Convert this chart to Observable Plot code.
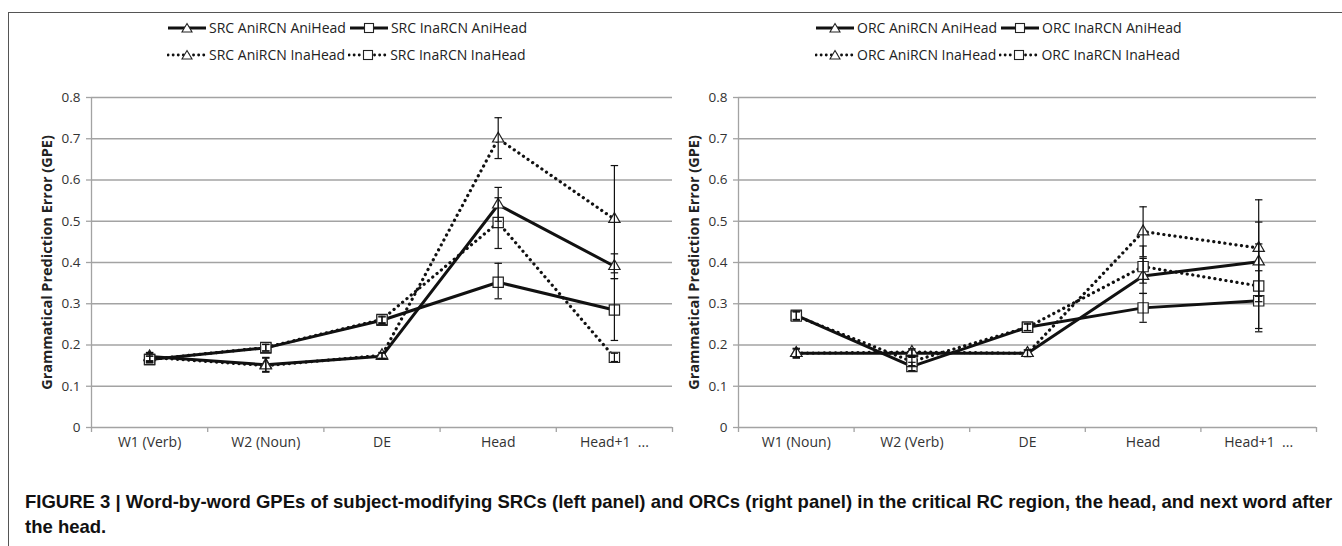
<!DOCTYPE html>
<html><head><meta charset="utf-8">
<script src="https://cdn.jsdelivr.net/npm/d3@7"></script>
<script src="https://cdn.jsdelivr.net/npm/@observablehq/plot@0.6"></script>
<style>
body{margin:0;width:1342px;height:546px;overflow:hidden;background:#fff;font-family:"Open Sans",sans-serif;position:relative}
#frame{position:absolute;left:8px;top:12px;width:1400px;height:600px;border-left:1.5px solid #555;border-top:1.5px solid #555}
.panel{position:absolute;top:85px}
.legend{position:absolute;font-size:14px;color:#222;line-height:16px}
.legend .row{display:flex;align-items:center;white-space:nowrap;height:16px}
.legend .row + .row{margin-top:11px}
.legend svg{display:block}
.caption{position:absolute;left:25px;top:489px;font-family:"Liberation Sans",Arial,sans-serif;font-weight:bold;font-size:18.5px;line-height:25px;color:#111;white-space:nowrap}
</style></head><body>
<div id="frame"></div>
<div id="legL" class="legend"></div>
<div id="legR" class="legend"></div>
<div id="left" class="panel" style="left:0px"></div>
<div id="right" class="panel" style="left:672px"></div>
<div class="caption">FIGURE 3 | Word-by-word GPEs of subject-modifying SRCs (left panel) and ORCs (right panel) in the critical RC region, the head, and next word after<br>the head.</div>
<script>
// ---- data ----
const categoriesSRC = ["W1 (Verb)", "W2 (Noun)", "DE", "Head", "Head+1 \u00a0..."];
const categoriesORC = ["W1 (Noun)", "W2 (Verb)", "DE", "Head", "Head+1 \u00a0..."];
const yTickValues = [0, 0.1, 0.2, 0.3, 0.4, 0.5, 0.6, 0.7, 0.8];

const seriesNamesSRC = ["SRC AniRCN AniHead", "SRC InaRCN AniHead", "SRC AniRCN InaHead", "SRC InaRCN InaHead"];
const seriesNamesORC = ["ORC AniRCN AniHead", "ORC InaRCN AniHead", "ORC AniRCN InaHead", "ORC InaRCN InaHead"];
const seriesSymbols = ["triangle", "square", "triangle", "square"];
const seriesDotted = [false, false, true, true];

// SRC values and error bounds
const srcAniAni   = [0.172, 0.152, 0.173, 0.540, 0.391];
const srcAniAniLo = [0.162, 0.136, 0.166, 0.500, 0.361];
const srcAniAniHi = [0.182, 0.168, 0.180, 0.582, 0.421];
const srcInaAni   = [0.165, 0.193, 0.260, 0.352, 0.285];
const srcInaAniLo = [0.157, 0.185, 0.252, 0.312, 0.211];
const srcInaAniHi = [0.173, 0.201, 0.268, 0.398, 0.361];
const srcAniIna   = [0.170, 0.150, 0.175, 0.700, 0.505];
const srcAniInaLo = [0.160, 0.134, 0.168, 0.652, 0.375];
const srcAniInaHi = [0.180, 0.170, 0.182, 0.751, 0.635];
const srcInaIna   = [0.165, 0.194, 0.262, 0.497, 0.170];
const srcInaInaLo = [0.157, 0.186, 0.254, 0.434, 0.160];
const srcInaInaHi = [0.173, 0.202, 0.270, 0.557, 0.180];

// ORC values and error bounds
const orcAniAni   = [0.180, 0.180, 0.180, 0.367, 0.402];
const orcAniAniLo = [0.168, 0.172, 0.172, 0.325, 0.305];
const orcAniAniHi = [0.192, 0.188, 0.188, 0.410, 0.498];
const orcInaAni   = [0.272, 0.148, 0.243, 0.290, 0.307];
const orcInaAniLo = [0.262, 0.138, 0.235, 0.255, 0.232];
const orcInaAniHi = [0.282, 0.158, 0.251, 0.325, 0.380];
const orcAniIna   = [0.180, 0.183, 0.180, 0.475, 0.435];
const orcAniInaLo = [0.170, 0.175, 0.172, 0.414, 0.318];
const orcAniInaHi = [0.190, 0.191, 0.188, 0.535, 0.552];
const orcInaIna   = [0.270, 0.160, 0.243, 0.390, 0.343];
const orcInaInaLo = [0.260, 0.150, 0.235, 0.350, 0.240];
const orcInaInaHi = [0.280, 0.170, 0.251, 0.440, 0.445];

const INK = "#111";
const GRID = "#a3a3a3";
const capSymbol = {draw(ctx, size) { const w = Math.sqrt(size); ctx.moveTo(-w / 2, 0); ctx.lineTo(w / 2, 0); }};

function buildSeries(names, vals, los, his) {
  return names.map((name, k) => ({
    name, symbol: seriesSymbols[k], dotted: seriesDotted[k],
    rows: vals[k].map((v, i) => ({i: i + 0.5, v, lo: los[k][i], hi: his[k][i]}))
  }));
}

function panel(cats, series, o) {
  const bounds = d3.range(cats.length + 1);
  const centers = cats.map((c, i) => i + 0.5);
  const marks = [
    Plot.gridY(yTickValues, {stroke: GRID, strokeOpacity: 1, strokeWidth: 1.3}),
    Plot.ruleX([0], {stroke: GRID, strokeWidth: 1.3}),
    Plot.axisY({ticks: yTickValues, tickFormat: d => d === 0 ? "0" : d.toFixed(1), tickSize: 5, tickPadding: 6,
      stroke: GRID, strokeWidth: 1.3, fontSize: 13.5, fill: "#333",
      label: "Grammatical Prediction Error (GPE)", labelAnchor: "center", labelArrow: "none", labelOffset: o.labelOffset}),
    Plot.axisX({ticks: bounds, tickFormat: () => "", tickSize: 5, stroke: GRID, strokeWidth: 1.3, label: null}),
    Plot.axisX({ticks: centers, tickFormat: d => cats[Math.floor(d)], tickSize: 0, tickPadding: 10, fontSize: 14, fill: "#333", label: null})
  ];
  series.forEach(s => {
    marks.push(Plot.line(s.rows, {x: "i", y: "v", stroke: INK, strokeWidth: s.dotted ? 3.2 : 3,
      strokeDasharray: s.dotted ? "0.1 5.5" : null, strokeLinecap: s.dotted ? "round" : "butt", strokeLinejoin: "round"}));
  });
  series.forEach(s => {
    marks.push(Plot.dot(s.rows, {x: "i", y: "v", symbol: s.symbol, r: s.symbol === "square" ? 5.8 : 4.2,
      fill: "white", stroke: "#222", strokeWidth: 1.2}));
  });
  series.forEach(s => {
    marks.push(Plot.ruleX(s.rows, {x: "i", y1: "lo", y2: "hi", stroke: INK, strokeWidth: 1.2}));
    marks.push(Plot.dot(s.rows, {x: "i", y: "lo", symbol: capSymbol, r: 4.2, stroke: INK, strokeWidth: 1.2, fill: "none"}));
    marks.push(Plot.dot(s.rows, {x: "i", y: "hi", symbol: capSymbol, r: 4.2, stroke: INK, strokeWidth: 1.2, fill: "none"}));
  });
  return Plot.plot({
    width: o.width, height: 380,
    marginTop: 12, marginBottom: 38, marginLeft: o.marginLeft, marginRight: o.marginRight,
    x: {domain: [0, cats.length], axis: null, label: null},
    y: {domain: [0, 0.8], axis: null},
    style: {fontFamily: "'Open Sans', sans-serif", background: "transparent", overflow: "visible"},
    marks
  });
}

const seriesSRC = buildSeries(seriesNamesSRC,
  [srcAniAni, srcInaAni, srcAniIna, srcInaIna],
  [srcAniAniLo, srcInaAniLo, srcAniInaLo, srcInaInaLo],
  [srcAniAniHi, srcInaAniHi, srcAniInaHi, srcInaInaHi]);
const seriesORC = buildSeries(seriesNamesORC,
  [orcAniAni, orcInaAni, orcAniIna, orcInaIna],
  [orcAniAniLo, orcInaAniLo, orcAniInaLo, orcInaInaLo],
  [orcAniAniHi, orcInaAniHi, orcAniInaHi, orcInaInaHi]);

function styleLabel(svg) {
  svg.querySelectorAll("text").forEach(t => {
    if (t.textContent.startsWith("Grammatical")) { t.style.fontWeight = "bold"; t.style.fontSize = "14.5px"; t.style.fill = "#222"; }
  });
  return svg;
}
document.getElementById("left").appendChild(styleLabel(panel(categoriesSRC, seriesSRC, {width: 672, marginLeft: 91, marginRight: 0, labelOffset: 50})));
document.getElementById("right").appendChild(styleLabel(panel(categoriesORC, seriesORC, {width: 670, marginLeft: 66, marginRight: 26, labelOffset: 50})));

// ---- legends ----
function legendSymbol(symbol, dotted) {
  const w = 40, h = 14;
  const dash = dotted ? `stroke-dasharray="0.1 5" stroke-linecap="round" stroke-width="2.8"` : `stroke-width="2.8"`;
  const mk = symbol === "triangle"
    ? `<path d="M${w/2},${h/2-4.5}L${w/2+5},${h/2+4}L${w/2-5},${h/2+4}Z" fill="white" stroke="#222" stroke-width="1.1"/>`
    : `<rect x="${w/2-4.5}" y="${h/2-4.5}" width="9" height="9" fill="white" stroke="#222" stroke-width="1.1"/>`;
  return `<svg width="${w}" height="${h}"><line x1="1" x2="${w-1}" y1="${h/2}" y2="${h/2}" stroke="${INK}" ${dash}/>${mk}</svg>`;
}
function legend(el, names, leftPx, topPx) {
  const rows = [[0, 1], [2, 3]];
  el.innerHTML = rows.map(r => `<div class="row">${r.map(k =>
    legendSymbol(seriesSymbols[k], seriesDotted[k]) + `<span style="margin:0 3px 0 2px">${names[k]}</span>`).join("")}</div>`).join("");
  el.style.left = leftPx + "px";
  el.style.top = topPx + "px";
}
legend(document.getElementById("legL"), seriesNamesSRC, 167, 20);
legend(document.getElementById("legR"), seriesNamesORC, 815, 20);
</script>
</body></html>
